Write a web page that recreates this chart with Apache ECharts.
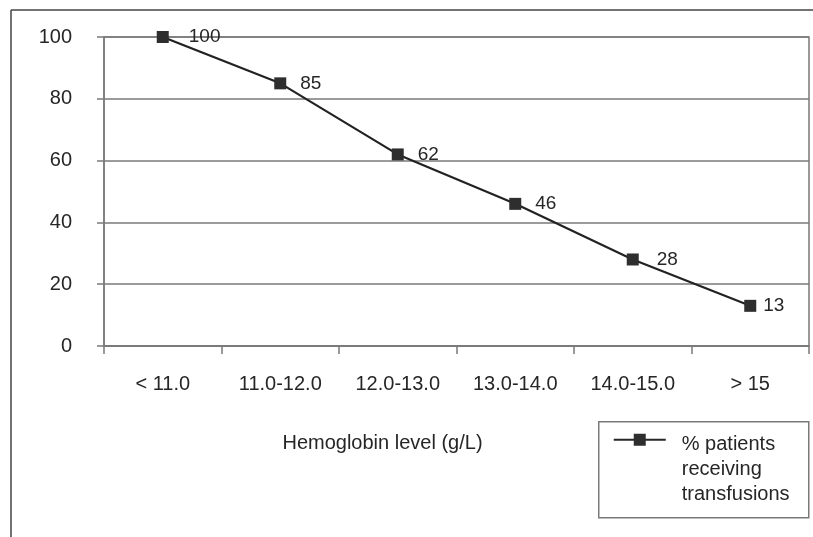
<!DOCTYPE html>
<html>
<head>
<meta charset="utf-8">
<style>
  html, body { margin: 0; padding: 0; background: #ffffff; }
  #chart { width: 813px; height: 537px; }
</style>
<script src="https://cdn.jsdelivr.net/npm/echarts@6/dist/echarts.min.js"></script>
</head>
<body>
<div id="chart"></div>
<script>
// Hemoglobin level bands (g/L) and share of patients transfused in each band
const categories = ['< 11.0', '11.0-12.0', '12.0-13.0', '13.0-14.0', '14.0-15.0', '> 15'];
const transfusedPct = [100, 85, 62, 46, 28, 13];
const labelGap = [20, 14, 14, 14, 18, 7];
const yTicks = [0, 20, 40, 60, 80, 100];
const seriesName = '% patients\nreceiving\ntransfusions';

const FONT = '"Liberation Sans", Arial, Helvetica, sans-serif';
const INK = '#262626';
const RULE = '#7a7a7a';

const chart = echarts.init(document.getElementById('chart'), null, { renderer: 'canvas' });

chart.setOption({
  backgroundColor: '#ffffff',
  animation: false,
  textStyle: { fontFamily: FONT, color: INK },
  grid: {
    left: 104, right: 4, top: 37, bottom: 191,
    show: true, borderColor: RULE, borderWidth: 1.5, backgroundColor: 'transparent'
  },
  xAxis: {
    type: 'category',
    data: categories,
    boundaryGap: true,
    name: 'Hemoglobin level (g/L)',
    nameLocation: 'middle',
    nameGap: 87,
    nameTextStyle: { fontFamily: FONT, fontSize: 20, color: INK, padding: [0, 148, 0, 0] },
    axisLine: { show: true, lineStyle: { color: RULE, width: 1.5 } },
    axisTick: { show: true, alignWithLabel: false, length: 8, lineStyle: { color: RULE, width: 1.5 } },
    axisLabel: { margin: 28, fontFamily: FONT, fontSize: 20, color: INK, interval: 0 },
    splitLine: { show: false }
  },
  yAxis: {
    type: 'value',
    min: yTicks[0],
    max: yTicks[yTicks.length - 1],
    interval: 20,
    axisLine: { show: true, lineStyle: { color: RULE, width: 1.5 } },
    axisTick: { show: true, length: 7, lineStyle: { color: RULE, width: 1.5 } },
    axisLabel: { margin: 32, fontFamily: FONT, fontSize: 20, color: INK },
    splitLine: { show: true, lineStyle: { color: RULE, width: 1.5 } }
  },
  legend: { show: false },
  series: [{
    name: seriesName,
    type: 'line',
    data: transfusedPct.map((v, i) => ({
      value: v,
      label: { distance: labelGap[i] }
    })),
    symbol: 'rect',
    symbolSize: 12,
    itemStyle: { color: '#2e2e2e' },
    lineStyle: { color: '#222222', width: 2.2 },
    label: {
      show: true,
      position: 'right',
      fontFamily: FONT,
      fontSize: 19,
      color: INK
    }
  }],
  graphic: [
    // page frame: top and left rules
    { type: 'line', shape: { x1: 11, y1: 10, x2: 813, y2: 10 }, style: { stroke: '#444', lineWidth: 1.5 } },
    { type: 'line', shape: { x1: 11, y1: 10, x2: 11, y2: 537 }, style: { stroke: '#444', lineWidth: 1.5 } },
    // boxed key for the series
    {
      type: 'group',
      left: 598,
      top: 421,
      children: [
        { type: 'rect', shape: { x: 0, y: 0, width: 210, height: 96 }, style: { fill: '#fff', stroke: RULE, lineWidth: 1.5 } },
        { type: 'line', shape: { x1: 15, y1: 18, x2: 67, y2: 18 }, style: { stroke: '#262626', lineWidth: 2 } },
        { type: 'rect', shape: { x: 35, y: 12, width: 12, height: 12 }, style: { fill: '#2e2e2e' } },
        {
          type: 'text',
          x: 83,
          y: 10,
          style: {
            text: seriesName,
            font: '20px ' + FONT,
            fill: INK,
            lineHeight: 25,
            verticalAlign: 'top'
          }
        }
      ]
    }
  ]
});
</script>
</body>
</html>
